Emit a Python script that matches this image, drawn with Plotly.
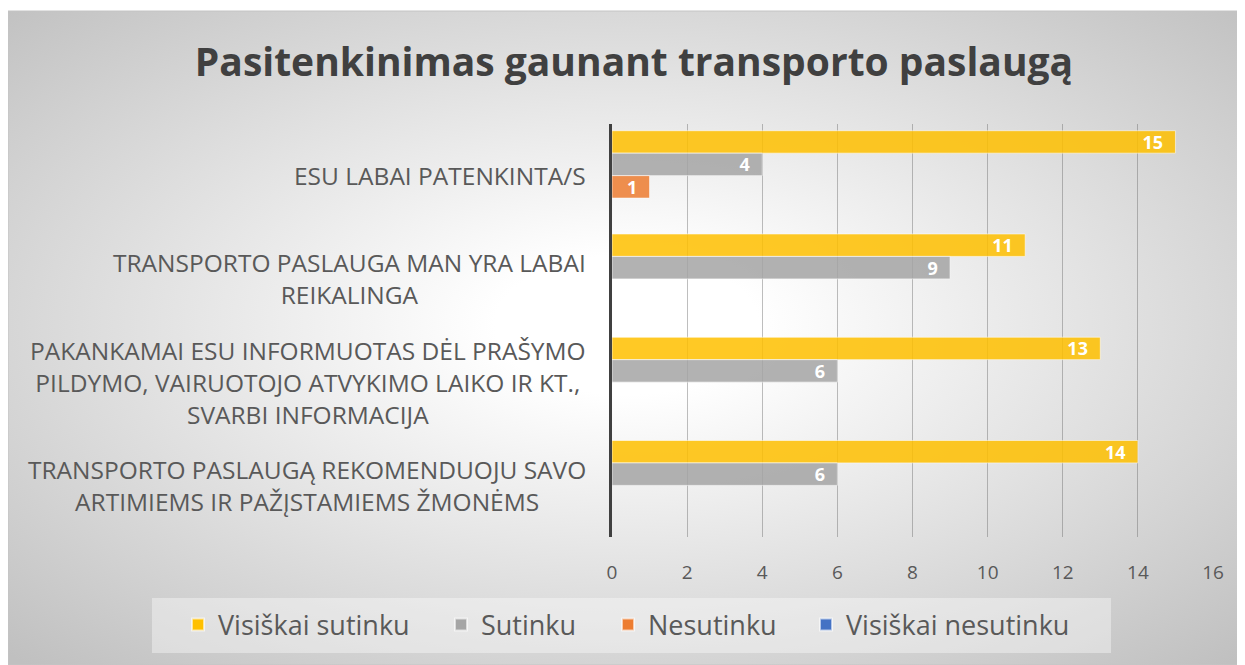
import base64
import plotly.graph_objects as go

# ---- data ----
categories = [
    "ESU LABAI PATENKINTA/S",
    "TRANSPORTO PASLAUGA MAN YRA LABAI REIKALINGA",
    "PAKANKAMAI ESU INFORMUOTAS DĖL PRAŠYMO PILDYMO, VAIRUOTOJO ATVYKIMO LAIKO IR KT., SVARBI INFORMACIJA",
    "TRANSPORTO PASLAUGĄ REKOMENDUOJU SAVO ARTIMIEMS IR PAŽĮSTAMIEMS ŽMONĖMS",
]
category_labels = [
    "ESU LABAI PATENKINTA/S",
    "TRANSPORTO PASLAUGA MAN YRA LABAI<br>REIKALINGA",
    "PAKANKAMAI ESU INFORMUOTAS DĖL PRAŠYMO<br>PILDYMO, VAIRUOTOJO ATVYKIMO LAIKO IR KT.,<br>SVARBI INFORMACIJA",
    "TRANSPORTO PASLAUGĄ REKOMENDUOJU SAVO<br>ARTIMIEMS IR PAŽĮSTAMIEMS ŽMONĖMS",
]
series_names = ["Visiškai sutinku", "Sutinku", "Nesutinku", "Visiškai nesutinku"]
visiskai_sutinku = [15, 11, 13, 14]
sutinku = [4, 9, 6, 6]
nesutinku = [1, None, None, None]
visiskai_nesutinku = [None, None, None, None]
x_ticks = [0, 2, 4, 6, 8, 10, 12, 14, 16]
title_text = "Pasitenkinimas gaunant transporto paslaugą"

series_values = [visiskai_sutinku, sutinku, nesutinku, visiskai_nesutinku]
colors = ["#FFC000", "#A5A5A5", "#ED7D31", "#4472C4"]
legend_widths = [218, 122, 153, 240]

FONT = "Open Sans"
OFF = 8  # default page body margin
W, H = 1245 - OFF, 665 - OFF
# plot area in page pixels: x 612..1213, y 124..537
L = 612 - OFF
R = 1245 - 1213
T = 124 - OFF
B = 665 - 537
pw = W - L - R
ph = H - T - B


def px_x(p):  # page pixel -> paper x
    return (p - OFF - L) / pw


def px_y(p):  # page pixel -> paper y
    return (H - B - (p - OFF)) / ph


fig = go.Figure()
for name, vals, col, lw in zip(series_names, series_values, colors, legend_widths):
    fig.add_trace(go.Bar(
        y=categories, x=vals, name=name, orientation="h",
        marker=dict(color=col, opacity=0.85,
                    line=dict(color="rgba(255,255,255,0.6)", width=1)),
        texttemplate="%{x}\u00a0\u00a0",
        textposition="inside", insidetextanchor="end", textangle=0,
        textfont=dict(family=FONT, size=18, color="white", weight="bold"),
        constraintext="none", legendwidth=lw,
        hoverinfo="x+name",
    ))

# category labels (centered multi-line, right edge near the axis)
for cat, lab in zip(categories, category_labels):
    fig.add_annotation(
        x=0, xref="paper", xanchor="right", xshift=-24,
        y=cat, yref="y", yanchor="middle",
        text=lab, showarrow=False, align="center",
        font=dict(family=FONT, size=24.5, color="#595959"),
    )

# radial gradient background panel
svg = (
    '<svg xmlns="http://www.w3.org/2000/svg" width="1237" height="654" '
    'viewBox="0 0 100 100" preserveAspectRatio="none">'
    '<defs><radialGradient id="g" cx="50%" cy="48%" r="71%">'
    '<stop offset="0" stop-color="#FFFFFF"/>'
    '<stop offset="0.15" stop-color="#FFFFFF"/>'
    '<stop offset="1" stop-color="#C0C0C0"/>'
    '</radialGradient></defs>'
    '<rect x="0" y="0" width="100" height="100" fill="url(#g)"/></svg>'
)
src = "data:image/svg+xml;base64," + base64.b64encode(svg.encode()).decode()
px0, px1, py0, py1 = 8, 1245, 11, 665
fig.add_layout_image(
    source=src, xref="paper", yref="paper",
    x=px_x(px0), y=px_y(py0),
    sizex=(px1 - px0) / pw, sizey=(py1 - py0) / ph,
    xanchor="left", yanchor="top", sizing="stretch", layer="below",
)
fig.add_shape(type="rect", xref="paper", yref="paper",
              x0=px_x(px0), x1=px_x(px1), y0=px_y(py1), y1=px_y(py0),
              line=dict(color="#C4C4C4", width=1), layer="below")
# legend box
fig.add_shape(type="rect", xref="paper", yref="paper",
              x0=px_x(152), x1=px_x(1111), y0=px_y(653), y1=px_y(598),
              fillcolor="rgba(255,255,255,0.38)", line=dict(width=0),
              layer="below")

fig.update_layout(
    width=W, height=H,
    margin=dict(l=L, r=R, t=T, b=B, pad=0, autoexpand=False),
    paper_bgcolor="white", plot_bgcolor="rgba(0,0,0,0)",
    barmode="group", bargap=0.13, bargroupgap=0,
    title=dict(text=title_text, x=(634 - OFF) / W, xref="container", xanchor="center",
               y=1 - (62 - OFF) / H, yref="container", yanchor="middle",
               font=dict(family=FONT, size=39, color="#404040", weight="bold")),
    font=dict(family=FONT, color="#595959"),
    showlegend=True,
    legend=dict(orientation="h", x=px_x(178), xanchor="left",
                y=px_y(625), yanchor="middle",
                bgcolor="rgba(0,0,0,0)",
                font=dict(family=FONT, size=27, color="#595959"),
                itemsizing="constant", traceorder="normal"),
)
fig.update_xaxes(range=[0, 16], tickvals=x_ticks, showgrid=True,
                 gridcolor="rgba(110,110,110,0.45)", gridwidth=1,
                 zeroline=False, showline=False,
                 ticks="outside", ticklen=18, tickcolor="rgba(0,0,0,0)",
                 tickfont=dict(family=FONT, size=19, color="#595959"))
fig.update_yaxes(autorange="reversed", showticklabels=False, showgrid=False,
                 showline=True, linecolor="#404040", linewidth=3,
                 zeroline=False)

fig.write_html("out.html")
